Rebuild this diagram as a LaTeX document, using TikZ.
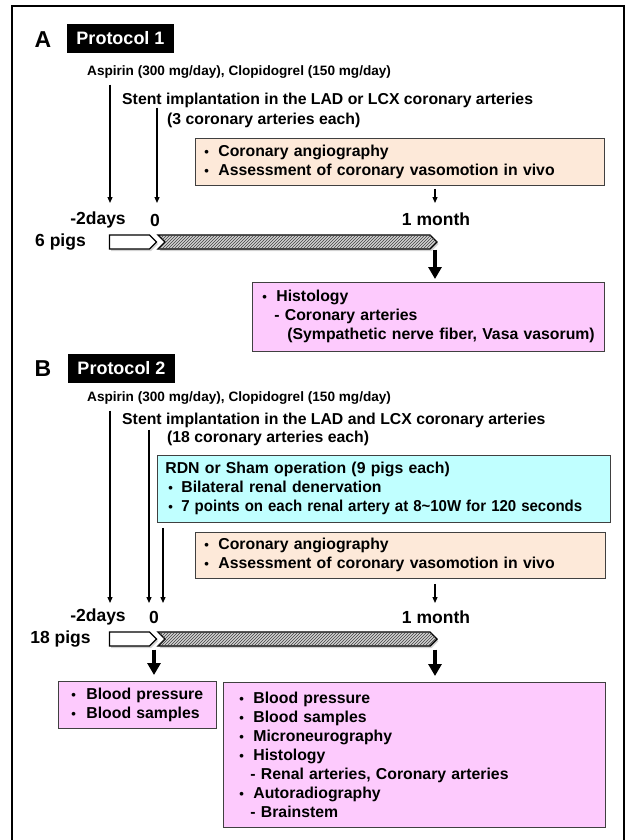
\documentclass[tikz,border=0pt]{standalone}
\usepackage{fontspec}
\setmainfont{Liberation Sans}
\usetikzlibrary{arrows.meta,shapes.symbols,patterns,shadows}
\definecolor{peach}{RGB}{253,233,217}
\definecolor{aqua}{RGB}{192,255,255}
\definecolor{lilac}{RGB}{253,202,253}
\newcommand{\bul}[1][14pt]{\makebox[#1][l]{\raisebox{0.3pt}{\fontsize{13}{13}\selectfont\textbullet}}}

\begin{document}
\begin{tikzpicture}
[x=1pt,y=-1pt,>={Triangle[length=6pt,width=5pt]},
 txt/.style={font=\fontsize{15.8}{19}\selectfont\bfseries,inner sep=0pt},
 tick/.style={font=\fontsize{17.5}{20}\selectfont\bfseries,inner sep=0pt},
 drug/.style={font=\fontsize{13.6}{16}\selectfont\bfseries,inner sep=0pt,anchor=west},
 panel/.style={font=\fontsize{23}{26}\selectfont\bfseries,inner sep=0pt},
 hdr/.style={fill=black,text=white,font=\fontsize{18}{20}\selectfont\bfseries,minimum width=107pt,minimum height=29pt,inner sep=0pt},
 box/.style={txt,draw=black!75,line width=0.8pt,anchor=north west,align=left,inner ysep=0pt},
 leadarrow/.style={signal,signal to=east,draw,line width=1.4pt,fill=white,minimum width=47pt,minimum height=14pt,inner sep=0pt,drop shadow={shadow xshift=1.5pt,shadow yshift=-2pt,opacity=0.35}},
 spanarrow/.style={signal,signal from=west,signal to=east,draw,line width=1.4pt,fill=gray!35,postaction={pattern=north east lines,pattern color=black!75},minimum width=279pt,minimum height=14pt,inner sep=0pt,drop shadow={shadow xshift=1.5pt,shadow yshift=-2pt,opacity=0.35}},
 bigarrow/.style={-{Triangle[length=12pt,width=13pt]},line width=3.5pt}]
\useasboundingbox (0,0) rectangle (628,840);
\draw [line width=1.2pt] (12,6) rectangle (624,850);
% protocol 1
\node (la) at (43,40) [panel] {A};
\node (p1) at (120.5,38.5) [hdr] {Protocol 1};
\node (asp1) at (87,72) [drug] {Aspirin (300 mg/day), Clopidogrel (150 mg/day)};
\node (st1) at (122,100) [txt,anchor=west] {Stent implantation in the LAD or LCX coronary arteries};
\node (n1) at (167,120) [txt,anchor=west] {(3 coronary arteries each)};
\node (ang1) at (195,138) [box,fill=peach,inner xsep=9pt,text width=391pt,minimum height=47pt]
  {\bul Coronary angiography\\\bul Assessment of coronary vasomotion in vivo};
\node (d1) at (98,220) [tick] {-2days};
\node (z1) at (155,220) [tick] {0};
\node (m1) at (436,219) [tick] {1 month};
\node (pig1) at (60.5,242) [tick] {6 pigs};
\node (pre1) at (129.5,242) [leadarrow] {};
\node (post1) at (297.5,242) [spanarrow] {};
\node (hist) at (252,282) [box,fill=lilac,inner xsep=10pt,text width=332pt,minimum height=69pt]
  {\bul Histology\\\hspace*{12pt}- Coronary arteries\\\mbox{\hspace*{25pt}(Sympathetic nerve fiber, Vasa vasorum)}};
\coordinate (t1) at (110,203);
\coordinate (t2) at (157,203);
\coordinate (t3) at (435,203);
\draw [->,line width=1.2pt,shorten <=6pt] (asp1.south -| t1) -- (t1);
\draw [->,line width=1.2pt] (st1.south -| t2) -- (t2);
\draw [->,line width=1.2pt,shorten <=3pt] (ang1.south -| t3) -- (t3);
\draw [bigarrow,shorten >=3pt] (post1.south -| t3) -- (hist.north -| t3);
% protocol 2
\node (lb) at (43,369) [panel] {B};
\node (p2) at (121.5,368) [hdr] {Protocol 2};
\node (asp2) at (87,398) [drug] {Aspirin (300 mg/day), Clopidogrel (150 mg/day)};
\node (st2) at (122,420) [txt,anchor=west] {Stent implantation in the LAD and LCX coronary arteries};
\node (n2) at (167,438) [txt,anchor=west] {(18 coronary arteries each)};
\node (rdn) at (157,455) [box,fill=aqua,inner xsep=8pt,text width=437pt,minimum height=67pt]
  {RDN or Sham operation (9 pigs each)\\\hspace*{3pt}\bul[13pt]Bilateral renal denervation\\
   \mbox{\hspace*{3pt}\bul[13pt]\scalebox{0.95}[1]{7 points on each renal artery at 8\textasciitilde10W for 120 seconds}}};
\node (ang2) at (195,532) [box,fill=peach,inner xsep=9pt,text width=392pt,minimum height=46pt]
  {\bul Coronary angiography\\\bul Assessment of coronary vasomotion in vivo};
\node (d2) at (98,617) [tick] {-2days};
\node (z2) at (154,617) [tick] {0};
\node (m2) at (436,617) [tick] {1 month};
\node (pig2) at (60.5,639) [tick] {18 pigs};
\node (pre2) at (129.5,639) [leadarrow] {};
\node (post2) at (297.5,639) [spanarrow] {};
\node (bp1) at (58,681) [box,fill=lilac,inner xsep=13pt,text width=132pt,minimum height=47pt]
  {\bul[15pt]Blood pressure\\\bul[15pt]Blood samples};
\node (bp2) at (223,682) [box,fill=lilac,inner xsep=16pt,text width=350pt,minimum height=145pt]
  {\bul Blood pressure\\\bul Blood samples\\\bul Microneurography\\\bul Histology\\\hspace*{11pt}- Renal arteries, Coronary arteries\\\bul Autoradiography\\\hspace*{11pt}- Brainstem};
\coordinate (u1) at (110,603);
\coordinate (u2) at (149,603);
\coordinate (u3) at (163,603);
\coordinate (u4) at (435,603);
\draw [->,line width=1.2pt,shorten <=6pt] (asp2.south -| u1) -- (u1);
\draw [->,line width=1.2pt,shorten <=2pt] (st2.south -| u2) -- (u2);
\draw [->,line width=1.2pt,shorten <=5pt] (rdn.south -| u3) -- (u3);
\draw [->,line width=1.2pt,shorten <=5pt] (ang2.south -| u4) -- (u4);
\draw [bigarrow,shorten <=3pt,shorten >=6pt] (pre2.south -| z2) -- (bp1.north -| z2);
\draw [bigarrow,shorten <=3pt,shorten >=6pt] (post2.south -| u4) -- (bp2.north -| u4);
\end{tikzpicture}
\end{document}
